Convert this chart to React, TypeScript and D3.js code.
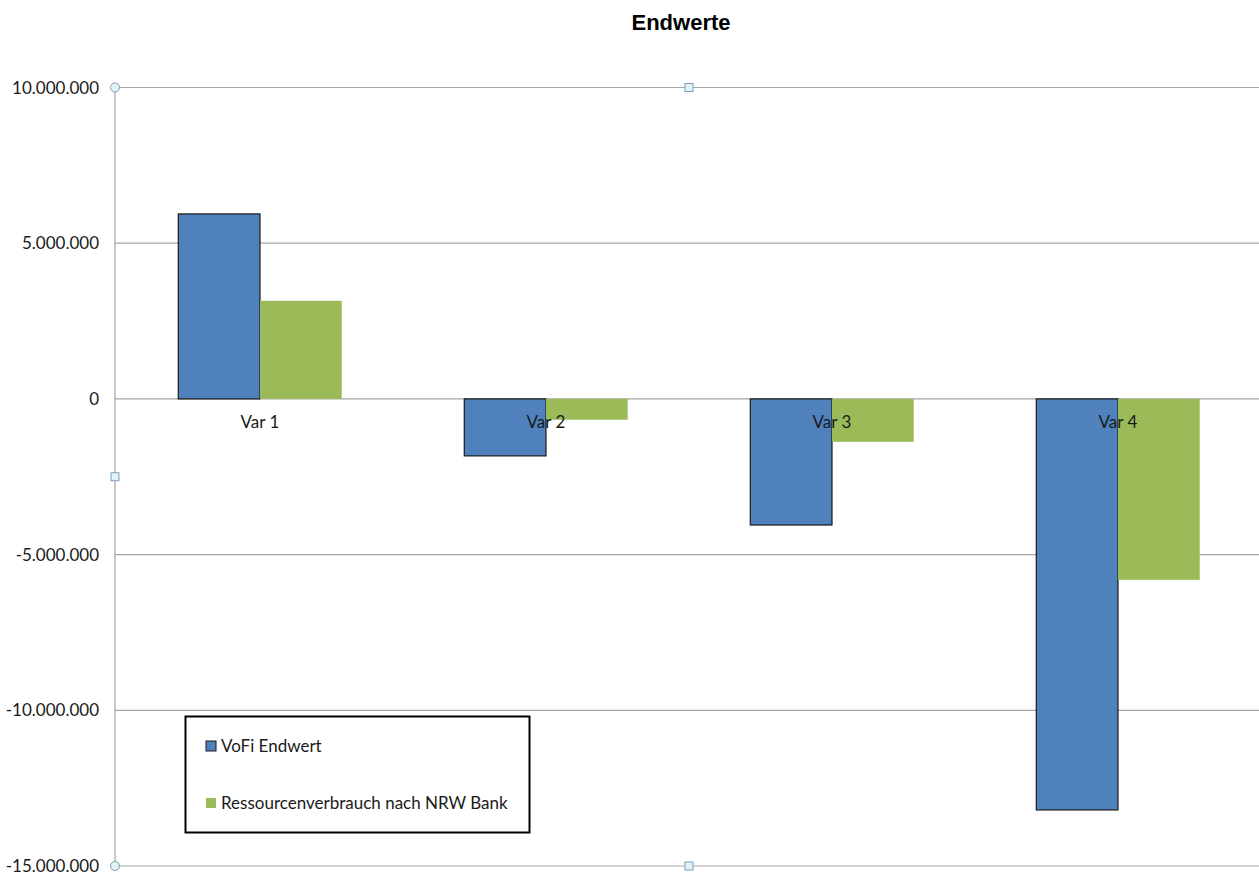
import React, { useEffect, useRef } from 'react';
import * as d3 from 'd3';

const categories = ["Var 1", "Var 2", "Var 3", "Var 4"];
const seriesNames = ["VoFi Endwert", "Ressourcenverbrauch nach NRW Bank"];
const vofi = [5940000, -1830000, -4050000, -13200000];
const nrw = [3150000, -670000, -1380000, -5810000];
const yTicks = [10000000, 5000000, 0, -5000000, -10000000, -15000000];
const colors = ["#4F81BD", "#9BBB59"];

const W = 1259, H = 875;

export default function App() {
  const ref = useRef<SVGSVGElement>(null);

  useEffect(() => {
    const svg = d3.select(ref.current);
    svg.selectAll("*").remove();

    const left = 115, right = 1259, top = 87.5, bottom = 866;
    const font = "Lato, 'Open Sans', sans-serif";

    // bands line up a little right of the axis in the original
    const x = d3.scaleBand().domain(categories).range([117, 1261]).padding(0);
    const bw = x.bandwidth() / 3.5;
    const y = d3.scaleLinear().domain([-15000000, 10000000]).range([bottom, top]);
    const de = d3.formatLocale({ decimal: ",", thousands: ".", grouping: [3], currency: ["", "€"], minus: "-" } as any);
    const fmt = de.format(",d");

    // title
    svg.append("text")
      .attr("x", 681).attr("y", 30)
      .attr("text-anchor", "middle")
      .attr("font-family", "Arial, 'Liberation Sans', sans-serif")
      .attr("font-weight", "bold")
      .attr("font-size", 22)
      .attr("fill", "#000")
      .text("Endwerte");

    // gridlines
    svg.append("g").selectAll("line")
      .data(yTicks).enter().append("line")
      .attr("x1", left).attr("x2", right)
      .attr("y1", d => y(d)).attr("y2", d => y(d))
      .attr("stroke", "#a6a6a6").attr("stroke-width", 1.2);

    // y axis line
    svg.append("line")
      .attr("x1", left).attr("x2", left)
      .attr("y1", top).attr("y2", bottom)
      .attr("stroke", "#a6a6a6").attr("stroke-width", 1.2);

    svg.append("g").selectAll("text")
      .data(yTicks).enter().append("text")
      .attr("x", 99).attr("y", d => y(d) + 6)
      .attr("text-anchor", "end")
      .attr("font-family", font)
      .attr("font-size", 17)
      .attr("fill", "#1a1a1a")
      .text(d => fmt(d));

    // bars
    const data = [vofi, nrw];
    data.forEach((vals, s) => {
      svg.append("g").selectAll("rect")
        .data(vals).enter().append("rect")
        .attr("x", (d, i) => x(categories[i])! + x.bandwidth() / 2 - bw + s * bw)
        .attr("y", d => y(Math.max(0, d)))
        .attr("width", bw)
        .attr("height", d => Math.abs(y(d) - y(0)))
        .attr("fill", colors[s])
        .attr("stroke", s === 0 ? "#1a1a1a" : "none")
        .attr("stroke-width", 1.2);
    });

    // category labels
    svg.append("g").selectAll("text")
      .data(categories).enter().append("text")
      .attr("x", d => x(d)! + x.bandwidth() / 2)
      .attr("y", y(0) + 29)
      .attr("text-anchor", "middle")
      .attr("font-family", font)
      .attr("font-size", 17)
      .attr("fill", "#1a1a1a")
      .text(d => d);

    // selection handles
    const circ = [[left, top], [left, bottom]];
    svg.append("g").selectAll("circle")
      .data(circ).enter().append("circle")
      .attr("cx", d => d[0]).attr("cy", d => d[1]).attr("r", 4.5)
      .attr("fill", "#dff3f8").attr("stroke", "#8a9aa6").attr("stroke-width", 1);
    const sq = [[689, top], [689, bottom], [left, (top + bottom) / 2]];
    svg.append("g").selectAll("rect")
      .data(sq).enter().append("rect")
      .attr("x", d => d[0] - 4).attr("y", d => d[1] - 4)
      .attr("width", 8).attr("height", 8)
      .attr("fill", "#dff3f8").attr("stroke", "#7f9db9").attr("stroke-width", 1);

    // legend
    const lg = svg.append("g");
    lg.append("rect")
      .attr("x", 185.5).attr("y", 716.5).attr("width", 344).attr("height", 116)
      .attr("fill", "#fff").attr("stroke", "#000").attr("stroke-width", 2);
    seriesNames.forEach((name, i) => {
      const ly = 746 + i * 57;
      lg.append("rect")
        .attr("x", 206).attr("y", ly - 5).attr("width", 10).attr("height", 10)
        .attr("fill", colors[i])
        .attr("stroke", i === 0 ? "#1a1a1a" : "none").attr("stroke-width", 1);
      lg.append("text")
        .attr("x", 221).attr("y", ly + 6)
        .attr("font-family", font)
        .attr("font-size", 17)
        .attr("fill", "#1a1a1a")
        .text(name);
    });
  }, []);

  return <svg ref={ref} width={W} height={H} style={{ position: "absolute", left: 0, top: 0, background: "#fff" }} />;
}
